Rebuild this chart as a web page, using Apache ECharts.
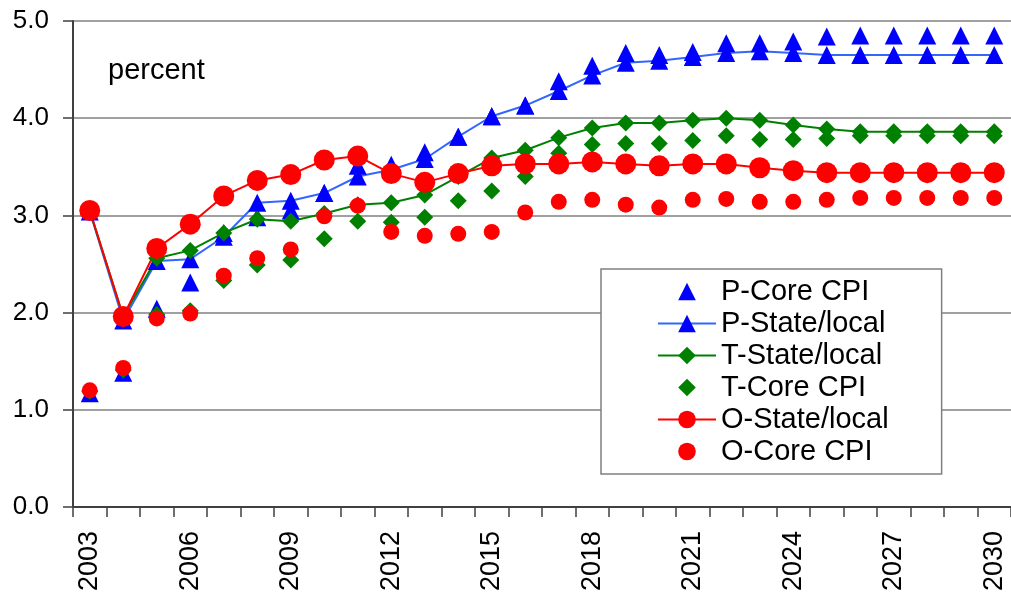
<!DOCTYPE html>
<html>
<head>
<meta charset="utf-8">
<script src="https://cdn.jsdelivr.net/npm/echarts@6/dist/echarts.min.js"></script>
<style>html,body{margin:0;padding:0;background:#fff}#c{width:1011px;height:596px}</style>
</head>
<body>
<div id="c"></div>
<script>
var years = ['2003','2004','2005','2006','2007','2008','2009','2010','2011','2012','2013','2014','2015','2016','2017','2018','2019','2020','2021','2022','2023','2024','2025','2026','2027','2028','2029','2030'];
var pCore  = [1.17,1.38,2.04,2.31,2.82,2.98,3.05,3.23,3.51,3.52,3.65,3.81,4.02,4.13,4.38,4.54,4.67,4.65,4.68,4.77,4.77,4.79,4.84,4.85,4.85,4.85,4.85,4.85];
var pState = [3.04,1.92,2.53,2.55,2.78,3.13,3.15,3.23,3.40,3.47,3.58,3.81,4.02,4.13,4.28,4.44,4.57,4.59,4.63,4.67,4.69,4.67,4.65,4.65,4.65,4.65,4.65,4.65];
var tState = [3.05,1.96,2.56,2.64,2.82,2.96,2.94,3.02,3.11,3.13,3.21,3.40,3.59,3.67,3.80,3.90,3.95,3.95,3.98,4.00,3.98,3.93,3.89,3.86,3.86,3.86,3.86,3.86];
var tCore  = [1.19,1.41,1.98,2.02,2.33,2.49,2.54,2.76,2.94,2.93,2.98,3.15,3.25,3.40,3.64,3.73,3.74,3.74,3.77,3.82,3.78,3.78,3.79,3.82,3.82,3.82,3.82,3.82];
var oState = [3.05,1.96,2.66,2.91,3.20,3.36,3.42,3.57,3.61,3.43,3.34,3.43,3.51,3.53,3.53,3.55,3.53,3.51,3.53,3.53,3.49,3.46,3.44,3.44,3.44,3.44,3.44,3.44];
var oCore  = [1.20,1.43,1.94,1.99,2.38,2.56,2.65,2.99,3.10,2.83,2.79,2.81,2.83,3.03,3.14,3.16,3.11,3.08,3.16,3.17,3.14,3.14,3.16,3.18,3.18,3.18,3.18,3.18];
var yTicks = [0,1,2,3,4,5];

var FONT = 'Liberation Sans, Arial, sans-serif';
var chart = echarts.init(document.getElementById('c'), null, {renderer:'canvas'});
function ser(name, data, opt) {
  return {
    name: name, type: 'line', data: data, animation: false,
    symbol: opt.symbol, symbolSize: opt.size, showSymbol: true, showAllSymbol: true,
    itemStyle: {color: opt.mark, opacity: 1},
    lineStyle: {color: opt.line || opt.mark, width: 2, opacity: opt.noLine ? 0 : 1},
    emphasis: {disabled: true}
  };
}
chart.setOption({
  animation: false,
  backgroundColor: '#fff',
  grid: {left: 73, right: -4, top: 21, bottom: 89, containLabel: false},
  xAxis: {
    type: 'category', data: years, boundaryGap: true,
    axisLine: {lineStyle: {color: '#404040', width: 2}},
    axisTick: {show: true, interval: 0, length: 10, lineStyle: {color: '#404040', width: 1.5}},
    axisLabel: {interval: 2, rotate: 90, margin: 24, color: '#000', fontSize: 27, fontFamily: FONT},
    splitLine: {show: false}
  },
  yAxis: {
    type: 'value', min: yTicks[0], max: yTicks[yTicks.length-1], interval: 1,
    axisLine: {show: true, lineStyle: {color: '#404040', width: 2}},
    axisTick: {show: true, length: 10, lineStyle: {color: '#404040', width: 1.5}},
    axisLabel: {margin: 24, color: '#000', fontSize: 26, fontFamily: FONT, formatter: function(v){return v.toFixed(1);}},
    splitLine: {show: true, lineStyle: {color: '#808080', width: 1.5}}
  },
  legend: {
    orient: 'vertical', left: 601, top: 269,
    padding: [8, 53, 8, 56], itemGap: 3, itemWidth: 58, itemHeight: 22,
    backgroundColor: '#fff', borderColor: '#808080', borderWidth: 1.5,
    selectedMode: false,
    textStyle: {fontSize: 29, fontFamily: FONT, color: '#000', lineHeight: 28},
    data: ['P-Core CPI','P-State/local','T-State/local','T-Core CPI','O-State/local','O-Core CPI']
  },
  graphic: [{
    type: 'text', left: 108, top: 56, z: 100,
    style: {text: 'percent', fontSize: 29, fontFamily: FONT, fill: '#000'}
  }],
  series: [
    ser('P-Core CPI', pCore, {symbol: 'triangle', size: 18, mark: '#0000ff', noLine: true}),
    ser('P-State/local', pState, {symbol: 'triangle', size: 18, mark: '#0000ff', line: '#3366ff'}),
    ser('T-State/local', tState, {symbol: 'diamond', size: 17, mark: '#008000'}),
    ser('T-Core CPI', tCore, {symbol: 'diamond', size: 17, mark: '#008000', noLine: true}),
    ser('O-State/local', oState, {symbol: 'circle', size: 21, mark: '#ff0000'}),
    ser('O-Core CPI', oCore, {symbol: 'circle', size: 16, mark: '#ff0000', noLine: true})
  ]
});
</script>
</body>
</html>
